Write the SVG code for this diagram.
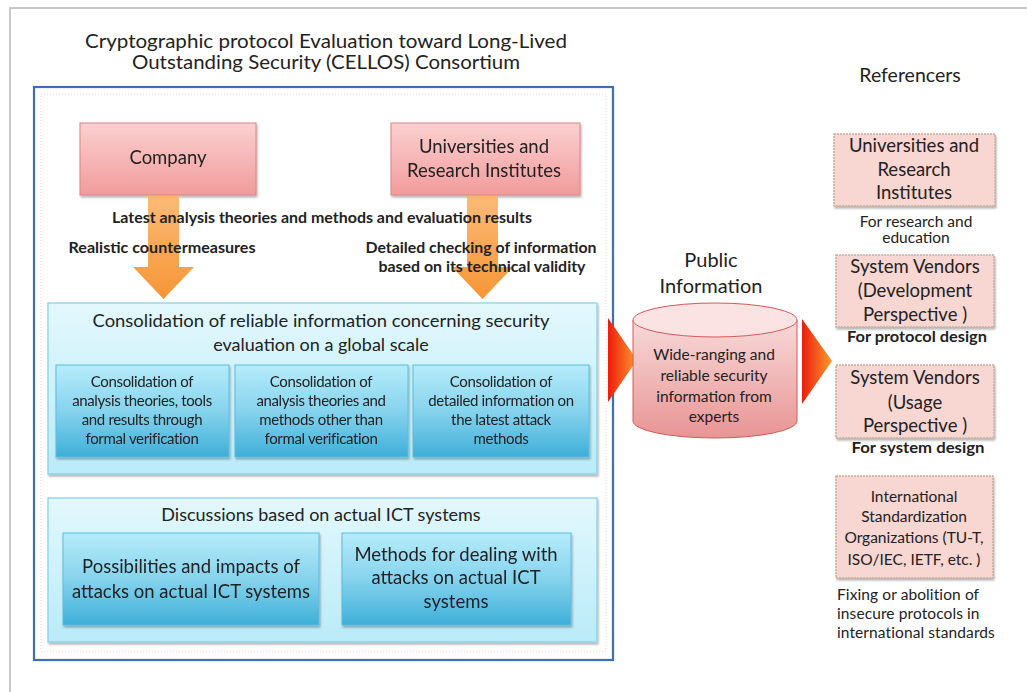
<svg xmlns="http://www.w3.org/2000/svg" width="1027" height="692" viewBox="0 0 1027 692">
<defs>
<linearGradient id="pinkG" x1="0" y1="0" x2="0" y2="1"><stop offset="0" stop-color="#fbd0d0"/><stop offset="1" stop-color="#f29b9b"/></linearGradient>
<linearGradient id="cyanOuter" x1="0" y1="0" x2="0" y2="1"><stop offset="0" stop-color="#e3f8fd"/><stop offset="1" stop-color="#b9ebf8"/></linearGradient>
<linearGradient id="cyanInner" x1="0" y1="0" x2="0" y2="1"><stop offset="0" stop-color="#b6ecfa"/><stop offset="0.5" stop-color="#86d3ee"/><stop offset="1" stop-color="#3eafd8"/></linearGradient>
<linearGradient id="orangeG" x1="0" y1="0" x2="0" y2="1"><stop offset="0" stop-color="#fbb267"/><stop offset="1" stop-color="#f58a1f"/></linearGradient>
<linearGradient id="redG" x1="0" y1="0" x2="1" y2="0"><stop offset="0" stop-color="#ec1c0c"/><stop offset="1" stop-color="#ff9a2c"/></linearGradient>
<linearGradient id="cylG" x1="0" y1="0" x2="0" y2="1"><stop offset="0" stop-color="#f8d9d9"/><stop offset="1" stop-color="#e99494"/></linearGradient>
<filter id="sh" x="-10%" y="-10%" width="125%" height="130%"><feDropShadow dx="1" dy="2" stdDeviation="1.2" flood-color="#000" flood-opacity="0.3"/></filter>
</defs>
<style>
text{font-family:Lato,"Liberation Sans",sans-serif;fill:#222;text-anchor:middle}
.b{font-weight:bold}
.pink{fill:url(#pinkG);stroke:#d98686;stroke-width:1}
.cyo{fill:url(#cyanOuter);stroke:#86cfe3;stroke-width:1.2}
.cyi{fill:url(#cyanInner);stroke:#5fbcdc;stroke-width:1}
.ref{fill:#f8d6d2;stroke:#c6ad9c;stroke-width:1.5;stroke-dasharray:2 1}
.t18{font-size:18.5px}
.t16{font-size:18px}
.t13{font-size:15px;letter-spacing:-0.35px}
.t14{font-size:15.5px}
.lb{font-size:14.5px;font-weight:bold}
</style>
<rect x="0" y="0" width="1027" height="692" fill="#fff"/>
<path d="M10,692 L10,8 L1027,8" fill="none" stroke="#c8c8c8" stroke-width="2"/>

<g id="title">
<text x="326" y="48" style="font-size:19px" textLength="482" lengthAdjust="spacingAndGlyphs">Cryptographic protocol Evaluation toward Long-Lived</text>
<text x="326" y="69" style="font-size:19px" textLength="388" lengthAdjust="spacingAndGlyphs">Outstanding Security (CELLOS) Consortium</text>
</g>

<g id="consortium">
<rect x="34" y="87" width="579" height="573" fill="#fff" stroke="#3d6fb4" stroke-width="2.2"/>
<rect x="41" y="94" width="565" height="557" fill="none" stroke="#f1d3c9" stroke-width="1" stroke-dasharray="1 2"/>
</g>

<g id="company" filter="url(#sh)">
<rect class="pink" x="80" y="123" width="176" height="72"/>
<text class="t18" x="168" y="164">Company</text>
</g>
<g id="universities" filter="url(#sh)">
<rect class="pink" x="391" y="123" width="189" height="72"/>
<text class="t18" x="484" y="153">Universities and</text>
<text class="t18" x="484" y="177">Research Institutes</text>
</g>

<g id="connectors">
<path d="M148,196 L179,196 L179,267 L194,267 L163.5,299 L133,267 L148,267 Z" fill="url(#orangeG)" opacity="0.9"/>
<path d="M467,196 L498,196 L498,267 L513,267 L482.5,299 L452,267 L467,267 Z" fill="url(#orangeG)" opacity="0.9"/>
<path d="M608,318 L637,360 L608,402 Z" fill="url(#redG)"/>
<path d="M802,319 L832,361 L802,404 Z" fill="url(#redG)"/>
</g>

<g id="flow-labels">
<text class="lb" x="322" y="223" textLength="420" lengthAdjust="spacingAndGlyphs">Latest analysis theories and methods and evaluation results</text>
<text class="lb" x="162" y="253" textLength="187" lengthAdjust="spacingAndGlyphs">Realistic countermeasures</text>
<text class="lb" x="481" y="253" textLength="231" lengthAdjust="spacingAndGlyphs">Detailed checking of information</text>
<text class="lb" x="482" y="272" textLength="207" lengthAdjust="spacingAndGlyphs">based on its technical validity</text>
</g>

<g id="consolidation">
<rect class="cyo" x="48" y="303" width="549" height="171" filter="url(#sh)"/>
<text class="t16" x="321" y="327" textLength="457" lengthAdjust="spacingAndGlyphs">Consolidation of reliable information concerning security</text>
<text class="t16" x="321" y="351">evaluation on a global scale</text>
</g>
<g id="cons1" filter="url(#sh)">
<rect class="cyi" x="56" y="365" width="173" height="92"/>
<text class="t13" x="142" y="387">Consolidation of</text>
<text class="t13" x="142" y="406">analysis theories, tools</text>
<text class="t13" x="142" y="425">and results through</text>
<text class="t13" x="142" y="444">formal verification</text>
</g>
<g id="cons2" filter="url(#sh)">
<rect class="cyi" x="235" y="365" width="173" height="92"/>
<text class="t13" x="321" y="387">Consolidation of</text>
<text class="t13" x="321" y="406">analysis theories and</text>
<text class="t13" x="321" y="425">methods other than</text>
<text class="t13" x="321" y="444">formal verification</text>
</g>
<g id="cons3" filter="url(#sh)">
<rect class="cyi" x="413" y="365" width="176" height="92"/>
<text class="t13" x="501" y="387">Consolidation of</text>
<text class="t13" x="501" y="406">detailed information on</text>
<text class="t13" x="501" y="425">the latest attack</text>
<text class="t13" x="501" y="444">methods</text>
</g>

<g id="discussions">
<rect class="cyo" x="48" y="498" width="549" height="144" filter="url(#sh)"/>
<text class="t16" x="321" y="521">Discussions based on actual ICT systems</text>
</g>
<g id="disc1" filter="url(#sh)">
<rect class="cyi" x="63" y="533" width="256" height="92"/>
<text class="t18" x="191" y="573">Possibilities and impacts of</text>
<text class="t18" x="191" y="598">attacks on actual ICT systems</text>
</g>
<g id="disc2" filter="url(#sh)">
<rect class="cyi" x="342" y="533" width="229" height="92"/>
<text class="t18" x="456" y="561">Methods for dealing with</text>
<text class="t18" x="456" y="584">attacks on actual ICT</text>
<text class="t18" x="456" y="608">systems</text>
</g>

<g id="public-info">
<text x="711" y="267" style="font-size:20px">Public</text>
<text x="711" y="293" style="font-size:20px">Information</text>
<path d="M633,320 L633,421 A82,17 0 0 0 797,421 L797,320 Z" fill="url(#cylG)" stroke="#d25a5a" stroke-width="1"/>
<ellipse cx="715" cy="320" rx="82" ry="17" fill="#fbe3e3" stroke="#d25a5a" stroke-width="1"/>
<text class="t14" x="714" y="360">Wide-ranging and</text>
<text class="t14" x="714" y="381">reliable security</text>
<text class="t14" x="714" y="402">information  from</text>
<text class="t14" x="714" y="422">experts</text>
</g>

<g id="referencers">
<text x="910" y="82" style="font-size:19.5px">Referencers</text>
</g>
<g id="ref-univ">
<rect class="ref" x="834" y="134" width="161" height="72" filter="url(#sh)"/>
<text class="t18" x="914" y="152">Universities and</text>
<text class="t18" x="914" y="176">Research</text>
<text class="t18" x="914" y="199">Institutes</text>
<text class="t14" x="916" y="227">For research and</text>
<text class="t14" x="916" y="243">education</text>
</g>
<g id="ref-dev">
<rect class="ref" x="836" y="255" width="158" height="72" filter="url(#sh)"/>
<text class="t18" x="915" y="273">System Vendors</text>
<text class="t18" x="915" y="297">(Development</text>
<text class="t18" x="915" y="321">Perspective )</text>
<text class="lb" x="917" y="342" textLength="140" lengthAdjust="spacingAndGlyphs">For protocol design</text>
</g>
<g id="ref-usage">
<rect class="ref" x="836" y="365" width="158" height="73" filter="url(#sh)"/>
<text class="t18" x="915" y="384">System Vendors</text>
<text class="t18" x="915" y="409">(Usage</text>
<text class="t18" x="915" y="432">Perspective )</text>
<text class="lb" x="918" y="453" textLength="133" lengthAdjust="spacingAndGlyphs">For system design</text>
</g>
<g id="ref-std">
<rect class="ref" x="836" y="476" width="157" height="102" filter="url(#sh)"/>
<text class="t14" x="914" y="502">International</text>
<text class="t14" x="914" y="522">Standardization</text>
<text class="t14" x="914" y="543">Organizations (TU-T,</text>
<text class="t14" x="914" y="565">ISO/IEC, IETF, etc. )</text>
<text class="t14" x="837" y="600" style="text-anchor:start;letter-spacing:0.1px">Fixing or abolition of</text>
<text class="t14" x="837" y="619" style="text-anchor:start;letter-spacing:0.1px">insecure protocols  in</text>
<text class="t14" x="837" y="638" style="text-anchor:start;letter-spacing:0.1px">international standards</text>
</g>
</svg>
